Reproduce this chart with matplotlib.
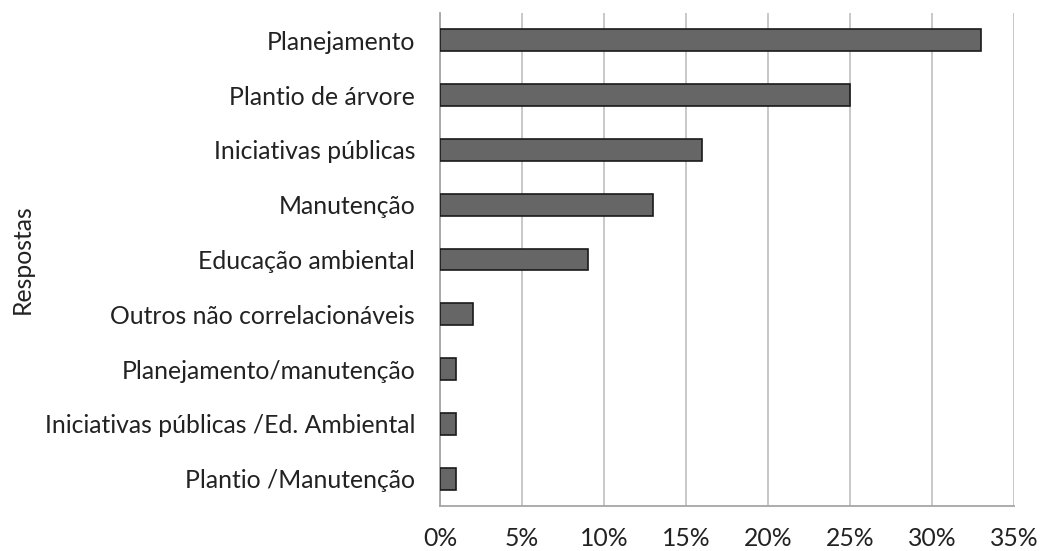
import matplotlib
matplotlib.use("Agg")
import matplotlib.pyplot as plt
from matplotlib.ticker import FuncFormatter

categories = [
    "Planejamento",
    "Plantio de árvore",
    "Iniciativas públicas",
    "Manutenção",
    "Educação ambiental",
    "Outros não correlacionáveis",
    "Planejamento/manutenção",
    "Iniciativas públicas /Ed. Ambiental",
    "Plantio /Manutenção",
]
values = [33, 25, 16, 13, 9, 2, 1, 1, 1]
xticks = [0, 5, 10, 15, 20, 25, 30, 35]

plt.rcParams["font.family"] = ["Lato", "DejaVu Sans"]
FS = 17.8

fig = plt.figure(figsize=(10.43, 5.51), dpi=100)
ax = fig.add_axes([0.4219, 0.0817, 0.5503, 0.8947])

ypos = list(range(len(categories)))
ax.barh(ypos, values, height=0.4, color="#666666", edgecolor="#1a1a1a",
        linewidth=1.2, zorder=3)
ax.set_ylim(len(categories) - 0.5, -0.5)
ax.set_yticks(ypos)
ax.set_yticklabels(categories, fontsize=FS, color="#222222")
ax.set_xlim(0, 35)
ax.set_xticks(xticks)
ax.xaxis.set_major_formatter(FuncFormatter(lambda v, p: f"{v:.0f}%"))
ax.tick_params(axis="x", labelsize=FS, labelcolor="#222222", length=0, pad=15)
ax.tick_params(axis="y", length=0, pad=18)
ax.grid(axis="x", color="#c4c4c4", linewidth=1.3, zorder=0)
ax.set_axisbelow(True)
for s in ("top", "right"):
    ax.spines[s].set_visible(False)
for s in ("left", "bottom"):
    ax.spines[s].set_color("#a6a6a6")
    ax.spines[s].set_linewidth(1.3)

fig.text(0.021, 0.529, "Respostas", rotation=90, fontsize=FS,
         color="#222222", ha="center", va="center")

fig.savefig("out.png", dpi=100)
